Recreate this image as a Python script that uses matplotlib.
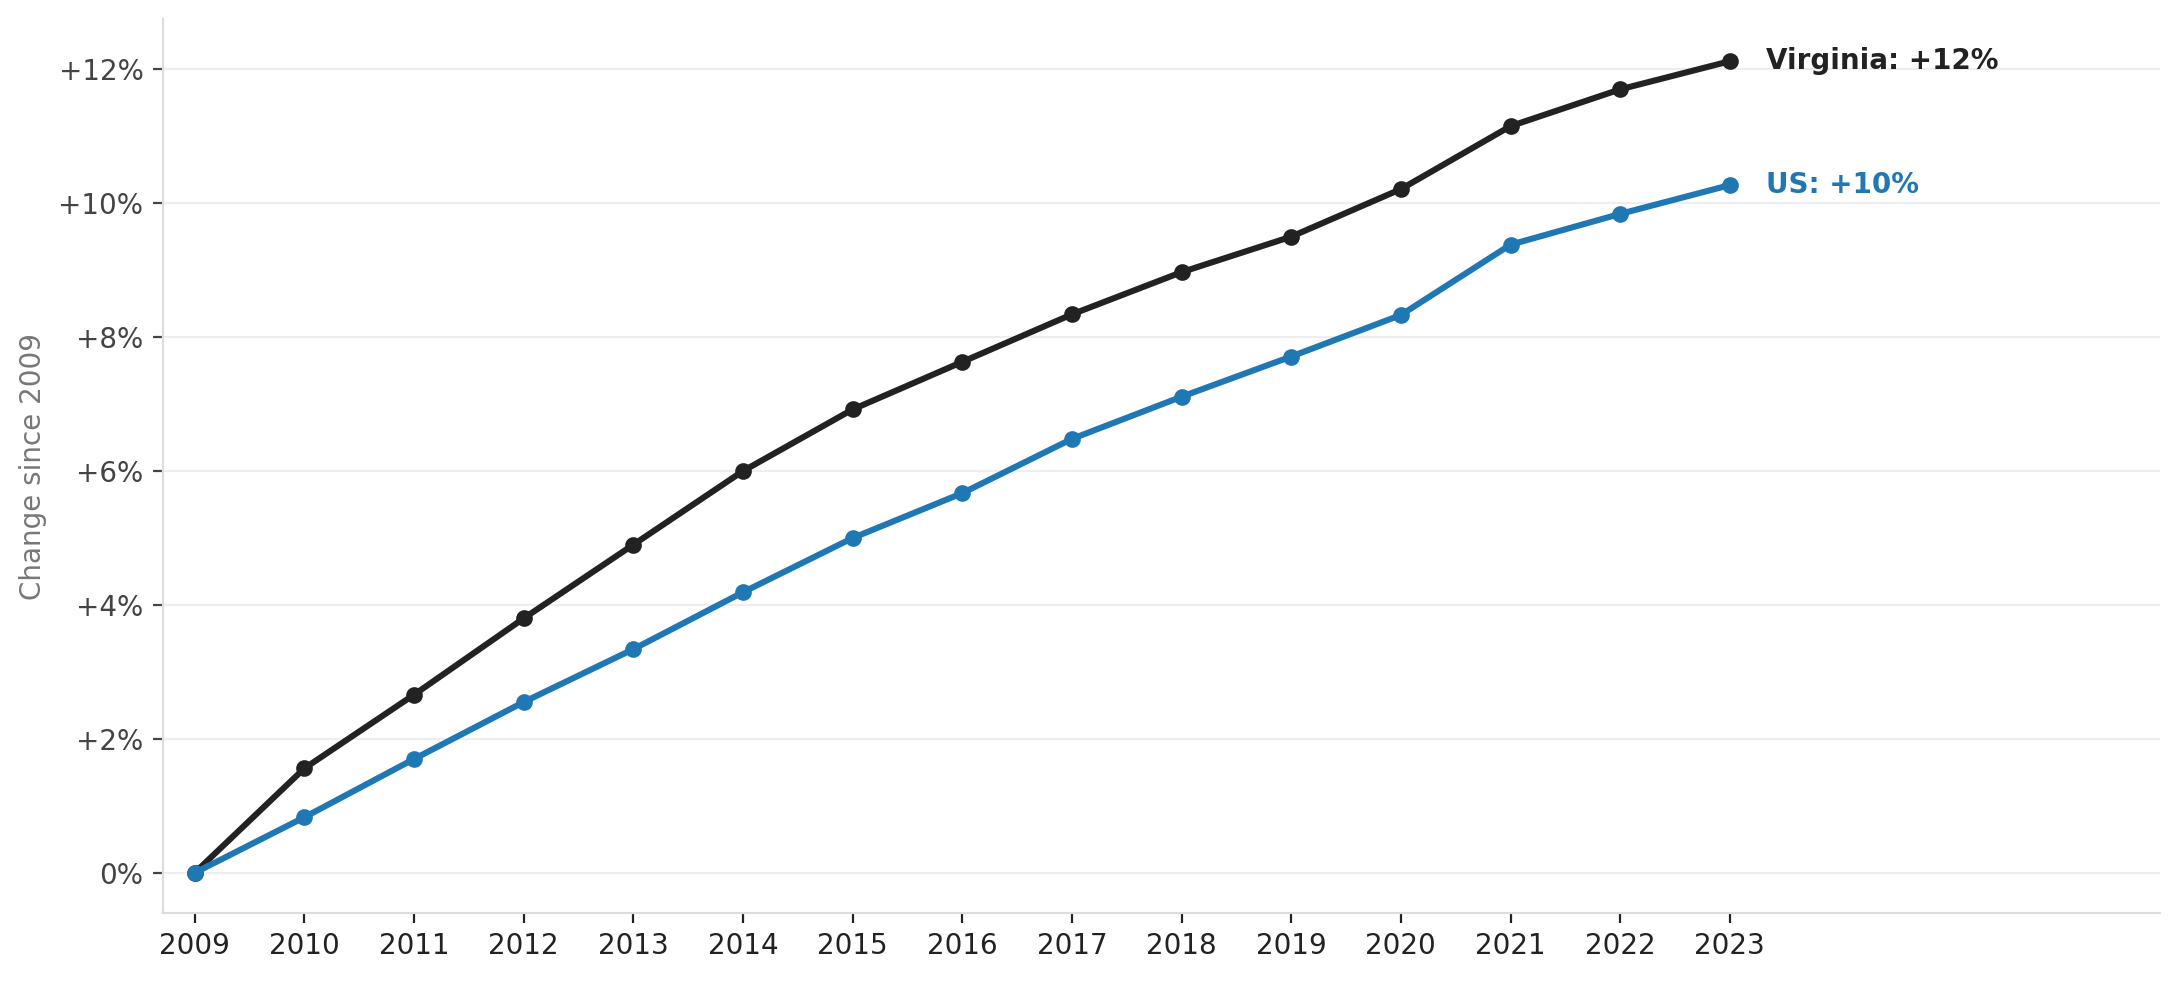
import numpy as np
import matplotlib
matplotlib.use("Agg")
import matplotlib.pyplot as plt
from matplotlib.ticker import FuncFormatter

years = [2009, 2010, 2011, 2012, 2013, 2014, 2015, 2016, 2017, 2018, 2019, 2020, 2021, 2022, 2023]
virginia = [0.0, 1.56, 2.66, 3.80, 4.90, 6.00, 6.92, 7.63, 8.34, 8.97, 9.50, 10.21, 11.15, 11.70, 12.12]
us = [0.0, 0.83, 1.70, 2.55, 3.34, 4.19, 5.00, 5.67, 6.48, 7.11, 7.71, 8.33, 9.38, 9.84, 10.27]

va_color = '#222222'
us_color = '#1f77b4'

plt.rcParams['font.family'] = ['DejaVu Sans']

fig = plt.figure(figsize=(10.905, 4.905), dpi=200)
ax = fig.add_axes([0.0747, 0.0693, 0.9155, 0.9113])

ax.plot(years, virginia, color=va_color, lw=2.2, marker='o', ms=5, zorder=3)
ax.plot(years, us, color=us_color, lw=2.2, marker='o', ms=5, zorder=4)

#end labels
ax.annotate('Virginia: +%d%%' % round(virginia[-1]), (years[-1], virginia[-1]),
            xytext=(13, 0), textcoords='offset points', va='center', ha='left',
            fontsize=10, fontweight='bold', color=va_color)
ax.annotate('US: +%d%%' % round(us[-1]), (years[-1], us[-1]),
            xytext=(13, 0), textcoords='offset points', va='center', ha='left',
            fontsize=10, fontweight='bold', color=us_color)

ax.set_xlim(2008.71, 2026.92)
ax.set_ylim(-0.6, 12.75)
ax.set_xticks(years)
ax.set_xticklabels([str(y) for y in years], fontsize=10, color='#222222')
ax.set_yticks([0, 2, 4, 6, 8, 10, 12])
ax.yaxis.set_major_formatter(FuncFormatter(lambda v, p: '0%' if v == 0 else '+%d%%' % v))
ax.tick_params(axis='y', labelsize=10, labelcolor='#444444', color='#444444')
ax.tick_params(axis='x', color='#222222')
ax.set_ylabel('Change since 2009', fontsize=10, color='#777777', labelpad=4)

ax.grid(axis='y', color='#eeeeee', lw=0.8, zorder=0)
ax.set_axisbelow(True)
for s in ['top', 'right']:
    ax.spines[s].set_visible(False)
for s in ['left', 'bottom']:
    ax.spines[s].set_color('#dddddd')
    ax.spines[s].set_linewidth(0.8)

fig.savefig('out.png', dpi=200)
